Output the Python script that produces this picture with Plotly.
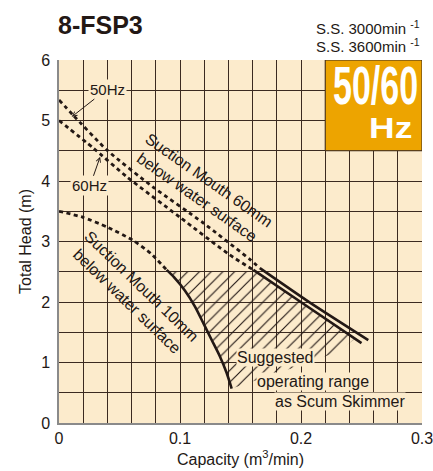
import plotly.graph_objects as go

INK = "#231815"
BG = "#FCEBCC"
GRID = "#3b2a20"
ORANGE = "#EDA400"
FONT = "Liberation Sans"

# ---- data ----
x_tick_vals = [0, 0.1, 0.2, 0.3]
x_tick_text = ["0", "0.1", "0.2", "0.3"]
y_tick_vals = [0, 1, 2, 3, 4, 5, 6]
y_tick_text = ["0", "1", "2", "3", "4", "5", "6"]

# Suction mouth 60 mm, 50 Hz (upper curve)
q50_dash = [0.0, 0.0116, 0.0397, 0.0777, 0.119, 0.158, 0.166]
h50_dash = [5.34, 5.09, 4.51, 3.90, 3.31, 2.70, 2.56]
q50_solid = [0.166, 0.2074, 0.2556]
h50_solid = [2.56, 1.99, 1.37]

# Suction mouth 60 mm, 60 Hz (lower curve)
q60_dash = [0.0, 0.028, 0.056, 0.100, 0.141, 0.1606]
h60_dash = [5.00, 4.55, 4.07, 3.40, 2.78, 2.53]
q60_solid = [0.1606, 0.205, 0.250]
h60_solid = [2.53, 1.93, 1.32]

# Suction mouth 10 mm
q10_dash = [0.0, 0.0198, 0.0397, 0.061, 0.076, 0.089]
h10_dash = [3.50, 3.40, 3.24, 3.02, 2.80, 2.53]
q10_solid = [0.089, 0.095, 0.104, 0.1125, 0.1193, 0.126, 0.133, 0.1385, 0.1427]
h10_solid = [2.53, 2.41, 2.19, 1.92, 1.65, 1.38, 1.10, 0.83, 0.57]

# Suggested operating range (hatched)
hatch_q = [0.0905, 0.095, 0.104, 0.1125, 0.1193, 0.126, 0.133, 0.1385, 0.1427,
           0.2005, 0.231, 0.2445, 0.205, 0.1628, 0.0905]
hatch_h = [2.50, 2.41, 2.19, 1.92, 1.65, 1.38, 1.10, 0.83, 0.57,
           0.96, 1.18, 1.39, 1.93, 2.50, 2.50]

fig = go.Figure()

fig.add_trace(go.Scatter(
    x=hatch_q, y=hatch_h, mode="lines", fill="toself",
    line=dict(width=0, color="rgba(0,0,0,0)"),
    fillcolor="rgba(0,0,0,0)",
    fillpattern=dict(shape="/", size=8.3, solidity=0.14, fgcolor=INK,
                     bgcolor="rgba(0,0,0,0)", fillmode="replace"),
    hoverinfo="skip", showlegend=False))

dash_style = dict(color=INK, width=2.8, dash="4px,3.5px")
solid_style = dict(color=INK, width=2.6)

for qx, hy, st in [
    (q50_dash, h50_dash, dash_style), (q50_solid, h50_solid, solid_style),
    (q60_dash, h60_dash, dash_style), (q60_solid, h60_solid, solid_style),
    (q10_dash, h10_dash, dash_style), (q10_solid, h10_solid, solid_style),
]:
    fig.add_trace(go.Scatter(x=qx, y=hy, mode="lines", line=dict(shape="spline", smoothing=0.6, **st),
                             hoverinfo="skip", showlegend=False))

# orange badge
fig.add_shape(type="rect", x0=0.22, x1=0.3, y0=4.5, y1=6, xref="x", yref="y",
              fillcolor=ORANGE, line=dict(color=GRID, width=1), layer="above")

ann = []
ann.append(dict(x=0.2612, y=5.58, xref="x", yref="y", text="<b>50/60</b>", showarrow=False,
                font=dict(family=FONT, size=54, color="white")))
ann.append(dict(x=0.2736, y=4.87, xref="x", yref="y", text="<b>Hz</b>", showarrow=False,
                font=dict(family=FONT, size=29, color="white")))

# title + speeds
ann.append(dict(x=0, y=1, xref="paper", yref="paper", xanchor="left", yanchor="bottom",
                xshift=-3, yshift=19, text="<b>8-FSP3</b>", showarrow=False,
                font=dict(family=FONT, size=25, color=INK)))
ann.append(dict(x=1, y=1, xref="paper", yref="paper", xanchor="right", yanchor="bottom",
                yshift=21, text="S.S. 3000min <sup>-1</sup>", showarrow=False,
                font=dict(family=FONT, size=15, color=INK)))
ann.append(dict(x=1, y=1, xref="paper", yref="paper", xanchor="right", yanchor="bottom",
                yshift=3, text="S.S. 3600min <sup>-1</sup>", showarrow=False,
                font=dict(family=FONT, size=15, color=INK)))

# Hz labels with arrows
ann.append(dict(x=0.0105, y=5.06, ax=0.0397, ay=5.52, axref="x", ayref="y", xref="x", yref="y",
                text="50Hz", showarrow=True, arrowhead=5, arrowsize=0.9, arrowwidth=1,
                arrowcolor=INK, bgcolor=BG, borderpad=1,
                font=dict(family=FONT, size=15, color=INK)))
ann.append(dict(x=0.034, y=4.40, ax=0.0256, ay=3.92, axref="x", ayref="y", xref="x", yref="y",
                text="60Hz", showarrow=True, arrowhead=5, arrowsize=0.9, arrowwidth=1,
                arrowcolor=INK, bgcolor=BG, borderpad=1,
                font=dict(family=FONT, size=15, color=INK)))

# curve labels
ann.append(dict(x=0.119, y=3.86, xref="x", yref="y", text="Suction Mouth 60mm<br>below water surface",
                showarrow=False, textangle=35, font=dict(family=FONT, size=16, color=INK)))
ann.append(dict(x=0.0625, y=2.14, xref="x", yref="y", text="Suction Mouth 10mm<br>below water surface",
                showarrow=False, textangle=44, font=dict(family=FONT, size=16, color=INK)))

# suggested range text
for txt, xx, yy in [("Suggested", 0.146, 1.09), ("operating range", 0.163, 0.69), ("as Scum Skimmer", 0.178, 0.35)]:
    ann.append(dict(x=xx, y=yy, xref="x", yref="y", xanchor="left", text=txt, showarrow=False,
                    bgcolor=BG, borderpad=0, font=dict(family=FONT, size=16, color=INK)))

fig.update_layout(
    width=433, height=471,
    margin=dict(l=59, r=11, t=60, b=48, autoexpand=False),
    paper_bgcolor="white", plot_bgcolor=BG,
    annotations=ann, showlegend=False,
    font=dict(family=FONT, color=INK),
)
fig.update_xaxes(range=[0, 0.3], tickvals=x_tick_vals, ticktext=x_tick_text,
                 showgrid=True, gridcolor=GRID, gridwidth=1.2, zeroline=False,
                 minor=dict(dtick=0.02, showgrid=True, gridcolor=GRID, gridwidth=1.2, ticks=""),
                 showline=True, linecolor="#8a8a8a", linewidth=1.5, ticks="",
                 tickfont=dict(size=16, color=INK), automargin=False, ticklabeloverflow="allow",
                 title=dict(text="Capacity (m<sup>3</sup>/min)", font=dict(size=16, color=INK), standoff=8))
fig.update_yaxes(range=[0, 6], tickvals=y_tick_vals, ticktext=y_tick_text,
                 showgrid=True, gridcolor=GRID, gridwidth=1.2, zeroline=False,
                 minor=dict(dtick=0.5, showgrid=True, gridcolor=GRID, gridwidth=1.2, ticks=""),
                 showline=True, linecolor="#8a8a8a", linewidth=1.5, ticks="",
                 tickfont=dict(size=16, color=INK), ticklabelstandoff=4, automargin=False,
                 ticklabeloverflow="allow",
                 title=dict(text="Total Head (m)", font=dict(size=16, color=INK), standoff=6))

post = """
document.body.style.margin = '0';
document.body.style.overflow = 'hidden';
document.querySelectorAll('text.annotation-text').forEach(function (t) {
  var s = t.textContent;
  if (s === '50/60' || s === 'Hz') {
    t.style.transformBox = 'fill-box';
    t.style.transformOrigin = 'center';
    t.style.transform = (s === '50/60') ? 'scaleX(0.63)' : 'scaleX(1.22)';
  }
});
"""
fig.write_html("out.html", post_script=post, config={"displayModeBar": False})
